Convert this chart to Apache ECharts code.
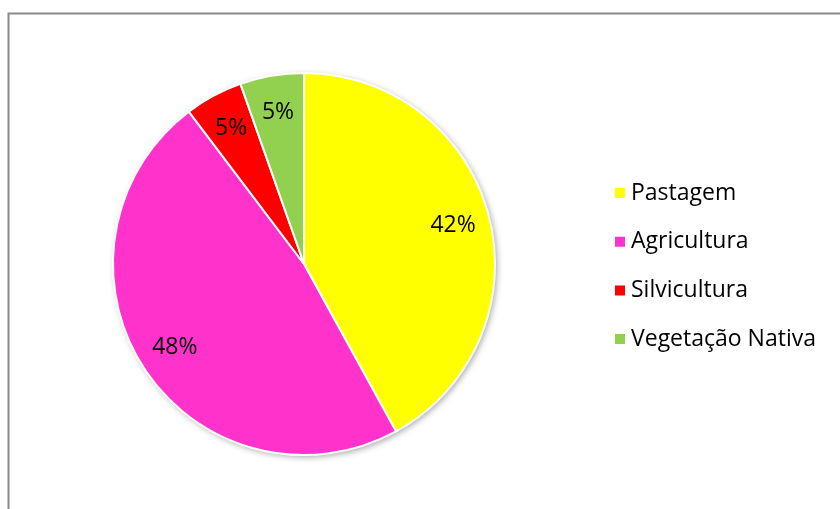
<!DOCTYPE html>
<html>
<head>
<meta charset="utf-8">
<script src="https://cdn.jsdelivr.net/npm/echarts@6/dist/echarts.min.js"></script>
<style>
  html, body { margin: 0; padding: 0; background: #fff; }
  #chart { width: 840px; height: 509px; }
</style>
</head>
<body>
<div id="chart"></div>
<script>
// data
const categories = ["Pastagem", "Agricultura", "Silvicultura", "Vegetação Nativa"];
const shares = [42, 47.7, 4.9, 5.4];
const colors = ["#FFFF00", "#FF33CC", "#FF0000", "#92D050"];

const el = document.getElementById("chart");
const chart = echarts.init(el);

const R = 191;
const center = [304, 264];
const fontFamily = "'Open Sans', Lato, sans-serif";

const sliceData = categories.map((name, i) => ({
  name: name,
  value: shares[i],
  itemStyle: { color: colors[i] },
}));

const total = shares.reduce((a, b) => a + b, 0);

const options = {
  animation: false,
  graphic: [
    {
      type: "rect",
      shape: { x: 8.5, y: 13.5, width: 900, height: 600 },
      style: { fill: "none", stroke: "#8a8a8a", lineWidth: 2 },
      silent: true,
      z: 0,
    },
  ],
  legend: {
    orient: "vertical",
    left: 608,
    top: 176,
    itemWidth: 12,
    itemHeight: 12,
    itemGap: 24.7,
    icon: "rect",
    data: categories,
    textStyle: {
      fontFamily: fontFamily,
      fontSize: 23,
      lineHeight: 24,
      color: "#000",
    },
  },
  series: [
    {
      // shadow underneath the whole pie
      type: "pie",
      silent: true,
      center: center,
      radius: R,
      label: { show: false },
      labelLine: { show: false },
      data: [{ name: "", value: total }],
      itemStyle: {
        color: "#fff",
        shadowBlur: 6,
        shadowOffsetX: 2,
        shadowOffsetY: 2,
        shadowColor: "rgba(0,0,0,0.35)",
      },
      z: 1,
    },
    {
      type: "pie",
      center: center,
      radius: R,
      startAngle: 90,
      clockwise: true,
      label: { show: false },
      labelLine: { show: false },
      itemStyle: { borderColor: "#fff", borderWidth: 2 },
      data: sliceData,
      z: 2,
    },
    {
      // label ring: labels land at about 0.8 of the radius
      type: "pie",
      silent: true,
      center: center,
      radius: [R * 0.58, R],
      startAngle: 90,
      clockwise: true,
      itemStyle: { color: "rgba(0,0,0,0)" },
      label: {
        show: true,
        position: "inside",
        formatter: (p) => Math.round(p.value) + "%",
        fontFamily: fontFamily,
        fontSize: 23,
        color: "#000",
      },
      labelLine: { show: false },
      data: categories.map((name, i) => ({ name: name, value: shares[i] })),
      z: 3,
    },
  ],
};

chart.setOption(options);
</script>
</body>
</html>
